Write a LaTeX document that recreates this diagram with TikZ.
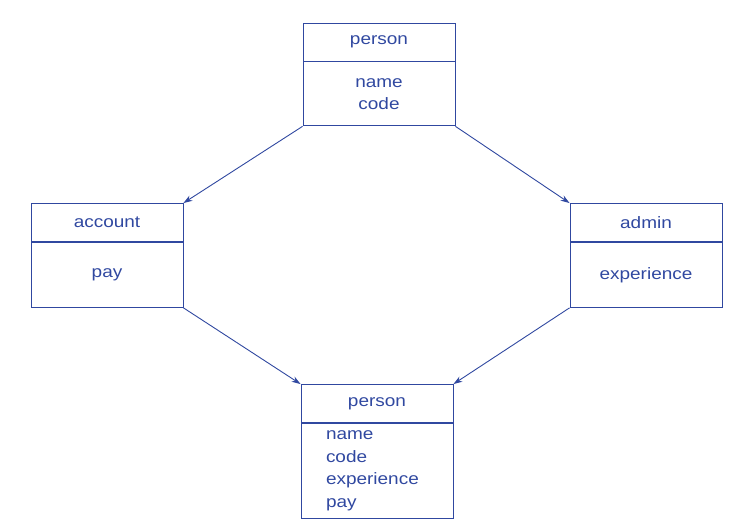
\documentclass[tikz,border=0pt]{standalone}
\usepackage{fontspec}
\setmainfont{Liberation Sans}[FakeStretch=1.15]
\usepackage{xcolor}
\usepackage{tikz}
\usetikzlibrary{positioning,arrows.meta}
\definecolor{encre}{RGB}{48,72,160}

\begin{document}
\begin{tikzpicture}[->,>={Stealth[length=9pt,width=6pt]},x=1pt,y=-1pt,
   color=encre,line width=0.9pt,
   nom classe/.style={draw,rectangle,minimum width=152pt,minimum height=38pt,
     inner sep=0pt,font=\fontsize{16.5}{21.5}\selectfont},
   attributs classe/.style={draw,rectangle,minimum width=152pt,inner sep=0pt,
     align=center,font=\fontsize{16.5}{21.5}\selectfont}]

  \useasboundingbox (0,0) rectangle (748,528);

  \node[nom classe](person) at (379,42) {person};
  \node[attributs classe,minimum height=64pt](personf) [below=0pt of person] {name\\code};
  \node[nom classe](account) at (107,222.5) {account};
  \node[attributs classe,minimum height=65pt](accountf) [below=0pt of account] {pay};
  \node[nom classe](admin) at (646,222.5) {admin};
  \node[attributs classe,minimum height=65pt](adminf) [below=0pt of admin] {experience};
  \node[nom classe](derived) at (377,403.5) {person};
  \node[attributs classe,minimum height=95pt,text width=102pt,inner xsep=25pt,
    align=left,font=\fontsize{16.5}{22.5}\selectfont](derivedf) [below=0pt of derived]
    {name\\code\\experience\\pay};

  \foreach \from/\to in {personf.south west/account.north east,
    personf.south east/admin.north west,
    accountf.south east/derived.north west,
    adminf.south west/derived.north east} \draw (\from) -- (\to);
\end{tikzpicture}
\end{document}
